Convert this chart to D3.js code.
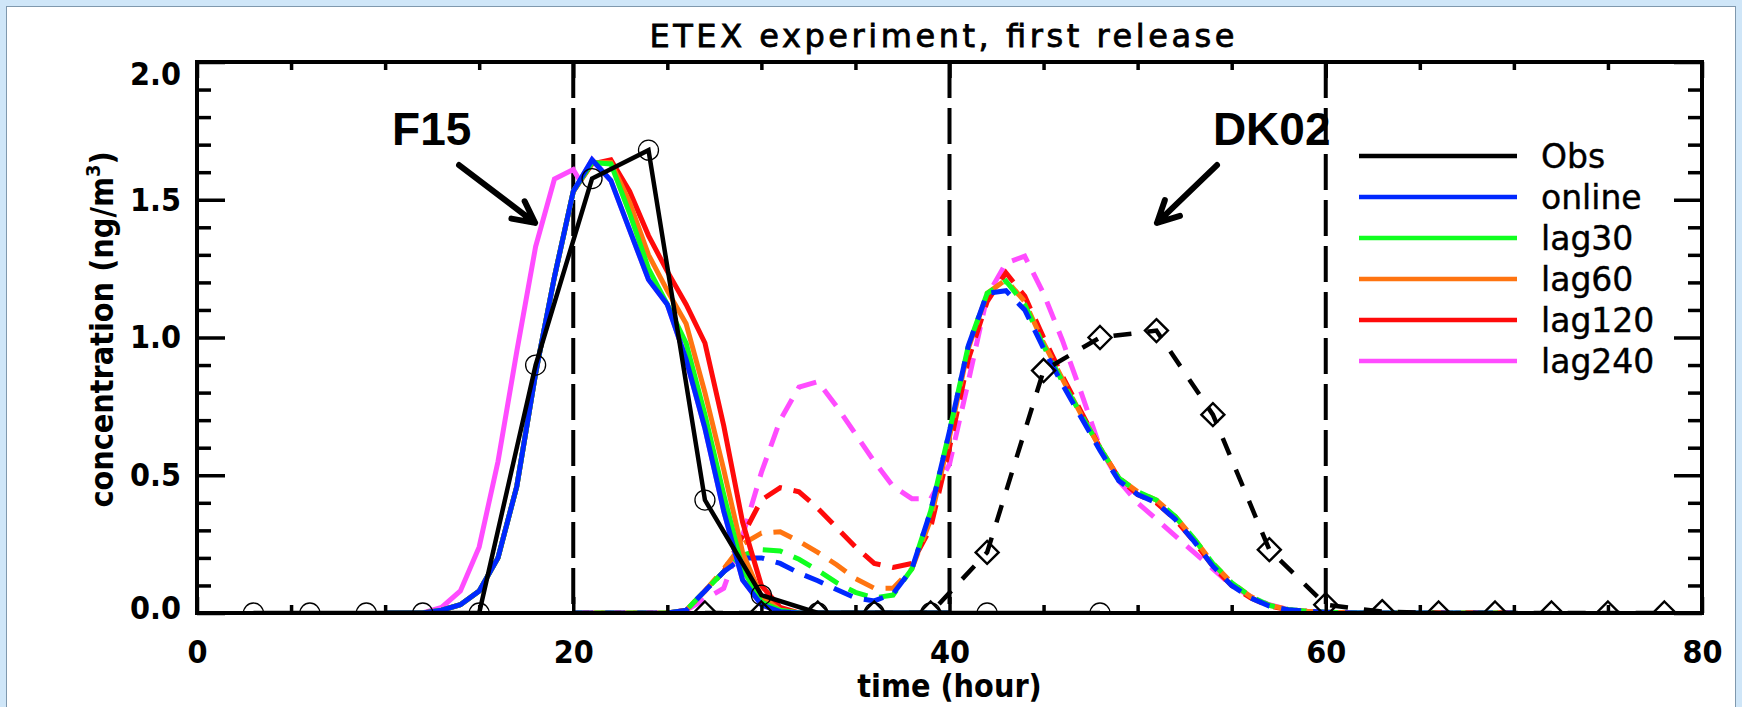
<!DOCTYPE html>
<html>
<head>
<meta charset="utf-8">
<script src="https://cdn.jsdelivr.net/npm/d3@7"></script>
<style>
  body { margin: 0; background: #cfe6f8; }
  svg { display: block; }
  .lab { font-family: "DejaVu Sans Condensed", "DejaVu Sans", sans-serif; font-weight: bold; font-stretch: condensed; }
  .reg { font-family: "DejaVu Sans", sans-serif; }
  .ann { font-family: "Liberation Sans", Arial, sans-serif; font-weight: bold; }
</style>
</head>
<body>
<svg id="chart" width="1742" height="707"></svg>
<script>
// ── Data (hours / ng m-3) ─────────────────────────
// F15 station, model runs (solid)
const f15Hours = [10,11,12,13,14,15,16,17,18,19,20,21,22,23,24,25,26,27,28,29,30,31,32,33,34,35,36,37,38,39,40];
const f15Online = [0,0,0,0.01,0.03,0.08,0.2,0.46,0.87,1.22,1.53,1.645,1.57,1.39,1.21,1.12,0.92,0.67,0.37,0.12,0.03,0.005,0,0,0,0,0,0,0,0,0];
const f15Lag30  = [0,0,0,0.01,0.03,0.08,0.2,0.46,0.87,1.22,1.53,1.635,1.63,1.45,1.25,1.12,0.98,0.72,0.43,0.16,0.04,0.01,0,0,0,0,0,0,0,0,0];
const f15Lag60  = [0,0,0,0.01,0.03,0.08,0.2,0.46,0.87,1.22,1.53,1.635,1.635,1.49,1.3,1.17,1.05,0.8,0.52,0.22,0.06,0.01,0,0,0,0,0,0,0,0,0];
const f15Lag120 = [0,0,0,0.01,0.03,0.08,0.2,0.46,0.87,1.22,1.53,1.63,1.645,1.53,1.37,1.24,1.12,0.98,0.68,0.33,0.1,0.02,0,0,0,0,0,0,0,0,0];
const f15HoursLag240 = [10,11,12,13,14,15,16,17,18,19,20,20.35,21,22,23,24,25,26,27,28,29,30,31,32,33,34,35,36,37,38,39,40];
const f15Lag240 = [0,0,0,0.02,0.08,0.24,0.55,0.95,1.33,1.575,1.61,1.57,1.645,1.57,1.39,1.21,1.12,0.92,0.67,0.37,0.12,0.03,0.005,0,0,0,0,0,0,0,0,0];

// DK02 station, model runs (dashed)
const dkHours = [20,21,22,23,24,25,26,27,28,29,30,31,32,33,34,35,36,37,38,39,40,41,42,43,44,45,46,47,48,49,50,51,52,53,54,55,56,57,58,59,60,61,62,63,64,65,66,67,68,69,70];
const dkOnline = [0,0,0,0,0,0,0.01,0.08,0.15,0.2,0.2,0.18,0.145,0.117,0.085,0.055,0.044,0.07,0.16,0.37,0.66,0.97,1.16,1.17,1.1,0.96,0.83,0.71,0.59,0.48,0.43,0.4,0.34,0.26,0.17,0.1,0.055,0.025,0.012,0.006,0.003,0.001,0,0,0,0,0,0,0,0,0];
const dkLag30  = [0,0,0,0,0,0,0.01,0.08,0.15,0.21,0.23,0.225,0.195,0.155,0.11,0.075,0.055,0.065,0.16,0.37,0.66,0.97,1.16,1.205,1.12,0.97,0.84,0.72,0.6,0.49,0.44,0.41,0.35,0.27,0.18,0.11,0.06,0.028,0.013,0.006,0.003,0.001,0,0,0,0,0,0,0,0,0];
const dkLag60  = [0,0,0,0,0,0,0.01,0.08,0.16,0.25,0.29,0.295,0.26,0.22,0.175,0.125,0.09,0.09,0.16,0.34,0.64,0.96,1.16,1.21,1.13,0.98,0.85,0.72,0.6,0.49,0.44,0.41,0.35,0.27,0.18,0.11,0.06,0.028,0.013,0.006,0.003,0.001,0,0,0,0,0,0,0,0,0];
const dkLag120 = [0,0,0,0,0,0,0.01,0.08,0.15,0.28,0.41,0.455,0.44,0.38,0.31,0.24,0.18,0.165,0.18,0.31,0.6,0.92,1.13,1.235,1.15,1.0,0.86,0.73,0.6,0.49,0.43,0.4,0.34,0.26,0.17,0.1,0.055,0.025,0.012,0.006,0.003,0.001,0,0,0,0,0,0,0,0,0];
const dkLag240 = [0,0,0,0,0,0,0.01,0.05,0.09,0.28,0.51,0.7,0.82,0.84,0.75,0.65,0.55,0.46,0.415,0.415,0.54,0.84,1.15,1.27,1.295,1.16,0.99,0.8,0.6,0.48,0.4,0.34,0.28,0.22,0.16,0.1,0.06,0.03,0.012,0.006,0.003,0.001,0,0,0,0,0,0,0,0,0];

// Observations
const obsF15Hours = [3,6,9,12,15,18,21,24,27,30,33,36,39,42,48];
const obsF15 = [0,0,0,0,0,0.9,1.577,1.68,0.41,0.065,0,0,0,0,0];
const obsDkHours = [27,30,33,36,39,42,45,48,51,54,57,60,63,66,69,72,75,78];
const obsDk = [0,0,0,0,0,0.22,0.88,1.0,1.025,0.72,0.23,0.03,0.005,0,0,0,0,0];

// Axes / labels
const xTicks = [0,20,40,60,80];
const yTicks = [0,0.5,1.0,1.5,2.0];
const markerLines = [20,40,60];
const legendNames = ['Obs','online','lag30','lag60','lag120','lag240'];
const legendColors = ['#000000','#0028ff','#10ff20','#ff7410','#ff0a0a','#ff4cff'];

// Station annotations: text position and arrow (hour, value)
const annotations = [
  { label: 'F15',  h: 10.37, v: 1.70, from: [13.93, 1.626], to: [17.97, 1.416] },
  { label: 'DK02', h: 54.0,  v: 1.70, from: [54.22, 1.626], to: [51.03, 1.416] }
];

// ── Layout ────────────────────────────────────────
const L = 197, R = 1702, T = 62, B = 613;
const LW = 5;

const svg = d3.select('#chart');

// panel frame
svg.append('rect').attr('x', 6.5).attr('y', 6.5).attr('width', 1729).attr('height', 720)
  .attr('fill', '#fff').attr('stroke', '#7f98ad').attr('stroke-width', 1);

const x = d3.scaleLinear().domain([0, 80]).range([L, R]);
const y = d3.scaleLinear().domain([0, 2]).range([B, T]);

svg.append('defs').append('clipPath').attr('id', 'plotClip')
  .append('rect').attr('x', L).attr('y', T).attr('width', R - L).attr('height', B - T);

const plot = svg.append('g').attr('clip-path', 'url(#plotClip)');

// vertical reference lines (long dashes)
plot.selectAll('line.ref').data(markerLines).enter().append('line')
  .attr('class', 'ref')
  .attr('x1', d => x(d)).attr('x2', d => x(d))
  .attr('y1', T).attr('y2', B)
  .attr('stroke', '#000').attr('stroke-width', 4)
  .attr('stroke-dasharray', '36,10');

const line = d3.line().x(d => x(d[0])).y(d => y(d[1]));
const zip = (hs, vs) => hs.map((h, i) => [h, vs[i]]);

// draw order: lag240 first so online sits on top
const dkSeries = [
  { vals: dkLag240, color: legendColors[5], off: 14 },
  { vals: dkLag120, color: legendColors[4], off: 4 },
  { vals: dkLag60,  color: legendColors[3], off: 22 },
  { vals: dkLag30,  color: legendColors[2], off: 11 },
  { vals: dkOnline, color: legendColors[1], off: 0 }
];
dkSeries.forEach(s => {
  plot.append('path').datum(zip(dkHours, s.vals))
    .attr('d', line).attr('fill', 'none')
    .attr('stroke', s.color).attr('stroke-width', LW)
    .attr('stroke-dasharray', '20,12').attr('stroke-dashoffset', s.off);
});

const f15Series = [
  { hours: f15HoursLag240, vals: f15Lag240, color: legendColors[5] },
  { hours: f15Hours, vals: f15Lag120, color: legendColors[4] },
  { hours: f15Hours, vals: f15Lag60,  color: legendColors[3] },
  { hours: f15Hours, vals: f15Lag30,  color: legendColors[2] },
  { hours: f15Hours, vals: f15Online, color: legendColors[1] }
];
f15Series.forEach(s => {
  plot.append('path').datum(zip(s.hours, s.vals))
    .attr('d', line).attr('fill', 'none')
    .attr('stroke', s.color).attr('stroke-width', LW);
});

// observations
plot.append('path').datum(zip(obsF15Hours, obsF15))
  .attr('d', line).attr('fill', 'none').attr('stroke', '#000').attr('stroke-width', 4.5);
plot.append('path').datum(zip(obsDkHours, obsDk))
  .attr('d', line).attr('fill', 'none').attr('stroke', '#000').attr('stroke-width', 4.5)
  .attr('stroke-dasharray', '18,16');

plot.selectAll('circle.obs').data(zip(obsF15Hours, obsF15)).enter().append('circle')
  .attr('class', 'obs')
  .attr('cx', d => x(d[0])).attr('cy', d => y(d[1])).attr('r', 10)
  .attr('fill', 'none').attr('stroke', '#000').attr('stroke-width', 1.3);

const dia = 11.5;
plot.selectAll('path.dia').data(zip(obsDkHours, obsDk)).enter().append('path')
  .attr('class', 'dia')
  .attr('d', d => {
    const cx = x(d[0]), cy = y(d[1]);
    return `M${cx},${cy - dia}L${cx + dia},${cy}L${cx},${cy + dia}L${cx - dia},${cy}Z`;
  })
  .attr('fill', 'none').attr('stroke', '#000').attr('stroke-width', 2.4);

// ── Axes ──────────────────────────────────────────
const xMinor = d3.range(0, 81, 5).filter(v => v % 20 !== 0);
const yMinor = d3.range(0, 21, 1).map(v => v / 10).filter(v => Math.round(v * 10) % 5 !== 0);

function styleAxis(g) {
  g.select('.domain').remove();
  g.selectAll('.tick line').attr('stroke', '#000').attr('stroke-width', 3.5);
}

// bottom
svg.append('g').attr('transform', `translate(0,${B})`)
  .call(d3.axisBottom(x).tickValues(xTicks).tickSizeInner(-16).tickSizeOuter(0).tickPadding(27).tickFormat(d3.format('d')))
  .call(styleAxis)
  .call(g => g.selectAll('text').attr('class', 'lab').attr('font-size', 32).attr('fill', '#000'));
svg.append('g').attr('transform', `translate(0,${B})`)
  .call(d3.axisBottom(x).tickValues(xMinor).tickSizeInner(-8).tickSizeOuter(0).tickFormat(''))
  .call(styleAxis);
// top
svg.append('g').attr('transform', `translate(0,${T})`)
  .call(d3.axisTop(x).tickValues(xTicks).tickSizeInner(-16).tickSizeOuter(0).tickFormat(''))
  .call(styleAxis);
svg.append('g').attr('transform', `translate(0,${T})`)
  .call(d3.axisTop(x).tickValues(xMinor).tickSizeInner(-8).tickSizeOuter(0).tickFormat(''))
  .call(styleAxis);
// left
svg.append('g').attr('transform', `translate(${L},0)`)
  .call(d3.axisLeft(y).tickValues(yTicks).tickSizeInner(-28).tickSizeOuter(0).tickPadding(16).tickFormat(d3.format('.1f')))
  .call(styleAxis)
  .call(g => g.selectAll('text').attr('class', 'lab').attr('font-size', 32).attr('fill', '#000')
    .attr('transform', d => d === 2 ? 'translate(0,12)' : (d === 0 ? 'translate(0,-5)' : null)));
svg.append('g').attr('transform', `translate(${L},0)`)
  .call(d3.axisLeft(y).tickValues(yMinor).tickSizeInner(-14).tickSizeOuter(0).tickFormat(''))
  .call(styleAxis);
// right
svg.append('g').attr('transform', `translate(${R},0)`)
  .call(d3.axisRight(y).tickValues(yTicks).tickSizeInner(-28).tickSizeOuter(0).tickFormat(''))
  .call(styleAxis);
svg.append('g').attr('transform', `translate(${R},0)`)
  .call(d3.axisRight(y).tickValues(yMinor).tickSizeInner(-14).tickSizeOuter(0).tickFormat(''))
  .call(styleAxis);

// frame
svg.append('rect').attr('x', L).attr('y', T).attr('width', R - L).attr('height', B - T)
  .attr('fill', 'none').attr('stroke', '#000').attr('stroke-width', 4);

// ── Titles ────────────────────────────────────────
svg.append('text').attr('class', 'reg')
  .attr('x', 942).attr('y', 47).attr('text-anchor', 'middle')
  .attr('font-size', 32).attr('textLength', 585).attr('lengthAdjust', 'spacing')
  .attr('stroke', '#000').attr('stroke-width', 0.8)
  .text('ETEX experiment, first release');

svg.append('text').attr('class', 'lab')
  .attr('x', (L + R) / 2).attr('y', 697).attr('text-anchor', 'middle')
  .attr('font-size', 32)
  .text('time (hour)');

const yl = svg.append('text').attr('class', 'lab')
  .attr('transform', `translate(113,${(T + B) / 2 - 8}) rotate(-90)`)
  .attr('text-anchor', 'middle').attr('font-size', 32);
yl.append('tspan').text('concentration (ng/m');
yl.append('tspan').attr('font-size', 20).attr('dy', -13).text('3');
yl.append('tspan').attr('dy', 13).text(')');

// ── Legend ────────────────────────────────────────
const leg = svg.append('g').selectAll('g').data(legendNames).enter().append('g')
  .attr('transform', (d, i) => `translate(1359,${156 + i * 41})`);
leg.append('line').attr('x1', 0).attr('x2', 158).attr('y1', 0).attr('y2', 0)
  .attr('stroke', (d, i) => legendColors[i]).attr('stroke-width', 4.5);
leg.append('text').attr('class', 'reg').attr('x', 182).attr('y', 0).attr('dy', '0.36em')
  .attr('font-size', 33).attr('stroke', '#000').attr('stroke-width', 0.4).text(d => d);

// ── Station annotations ───────────────────────────
annotations.forEach(a => {
  svg.append('text').attr('class', 'ann')
    .attr('x', x(a.h)).attr('y', y(a.v)).attr('font-size', 46).text(a.label);
  const sx = x(a.from[0]), sy = y(a.from[1]);
  const tx = x(a.to[0]), ty = y(a.to[1]);
  const ang = Math.atan2(ty - sy, tx - sx);
  const len = 24, spread = 27 * Math.PI / 180;
  const w1 = [tx - len * Math.cos(ang - spread), ty - len * Math.sin(ang - spread)];
  const w2 = [tx - len * Math.cos(ang + spread), ty - len * Math.sin(ang + spread)];
  svg.append('path')
    .attr('d', `M${sx},${sy}L${tx},${ty}M${w1[0]},${w1[1]}L${tx},${ty}L${w2[0]},${w2[1]}`)
    .attr('fill', 'none').attr('stroke', '#000').attr('stroke-width', 6)
    .attr('stroke-linecap', 'round').attr('stroke-linejoin', 'round');
});
</script>
</body>
</html>
